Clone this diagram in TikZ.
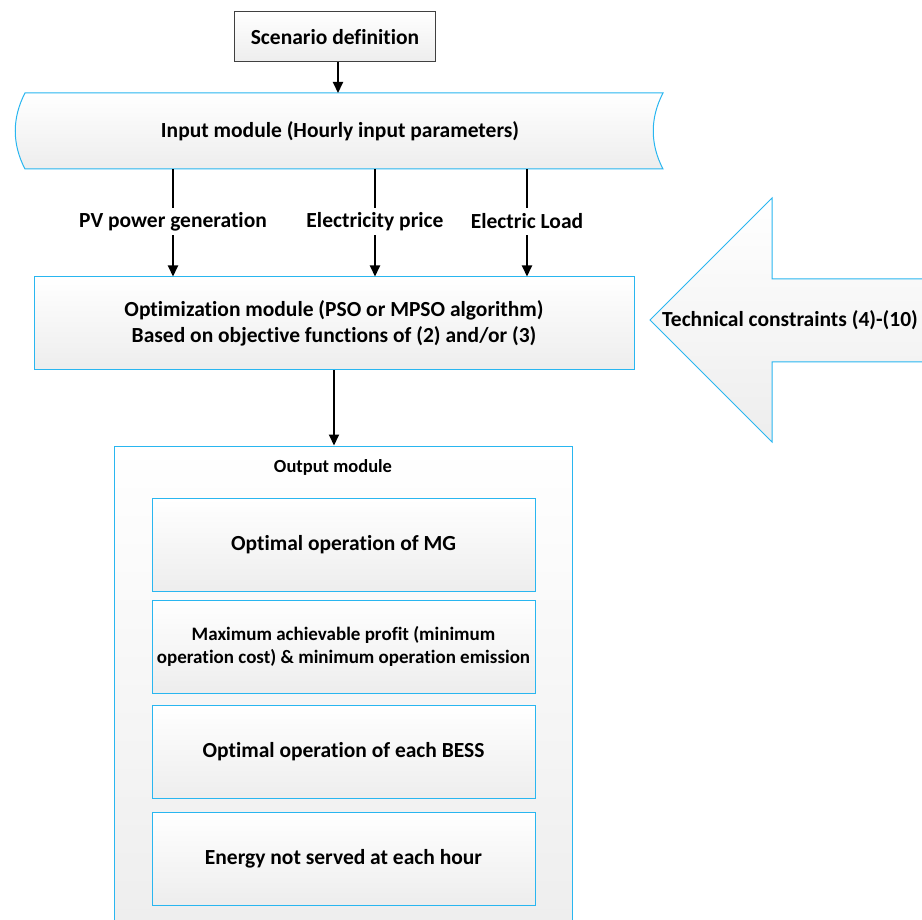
\documentclass[tikz,border=0pt]{standalone}
\usepackage{fontspec}
\setmainfont{Carlito}[Ligatures=NoCommon]
\usetikzlibrary{arrows.meta,positioning}
\definecolor{edge}{RGB}{41,182,240}
\definecolor{frame}{RGB}{64,64,64}
\begin{document}
\begin{tikzpicture}[x=1pt,y=1pt]
	\tikzstyle{every node}+=[inner sep=0pt, font=\fontsize{21.5}{26}\bfseries]
	\tikzstyle{shade}=[top color=white, bottom color=black!7]
	\tikzstyle{box}=[shade, draw=edge, line width=1pt, align=center]
	\tikzstyle{link}=[line width=2pt, -{Triangle[width=10pt,length=11pt]}]
	\clip (0,0) rectangle (922,-920);
	\node [box, draw=frame, minimum width=201, minimum height=50] (sd) at (335,-37) {Scenario definition};
	\draw [shade, draw=edge, line width=1pt] (25,-93) -- (663,-93) .. controls (650,-118) and (650,-144) .. (663,-169) -- (25,-169) .. controls (12,-144) and (12,-118) .. (25,-93) -- cycle;
	\node [minimum width=620, minimum height=76] (in) at (340,-131) {Input module (Hourly input parameters)};
	\draw [link] (sd.south -| 338,0) -- (338,-93);
	\node [box, minimum width=600, minimum height=93] (opt) at (334,-323.5) {Optimization module (PSO or MPSO algorithm)\\Based on objective functions of (2) and/or (3)};
	\node [minimum height=27] (pv) at (173,-221.5) {PV power generation};
	\node [minimum height=27] (price) at (375,-221.5) {Electricity price};
	\node [minimum height=27] (load) at (527,-221.5) {Electric Load};
	\foreach \s in {pv,price,load} {
		\draw [line width=2pt] (\s |- in.south) -- (\s.north);
		\draw [link] (\s.south) -- (\s |- opt.north);
	}
	\draw [box] (930,-279) -- (772,-279) -- (772,-198) -- (650,-320) -- (772,-442) -- (772,-362) -- (930,-362);
	\node (tc) at (790,-320) {Technical constraints (4)-(10)};
	\node [box, minimum width=458, minimum height=500] (out) at (343,-696) {};
	\node [font=\fontsize{18.5}{22}\bfseries] (outl) at (333,-467) {Output module};
	\draw [link] (opt.south) -- (opt.south |- out.north);
	\node [box, minimum width=383, minimum height=93] (mg) at (343.5,-545) {Optimal operation of MG};
	\node [box, minimum width=383, minimum height=93, font=\fontsize{19}{23}\bfseries] (profit) at (343.5,-646.5) {Maximum achievable profit (minimum\\operation cost) \& minimum operation emission};
	\node [box, minimum width=383, minimum height=93] (bess) at (343.5,-752) {Optimal operation of each BESS};
	\node [box, minimum width=383, minimum height=93] (ens) at (343.5,-858.5) {Energy not served at each hour};
\end{tikzpicture}
\end{document}
